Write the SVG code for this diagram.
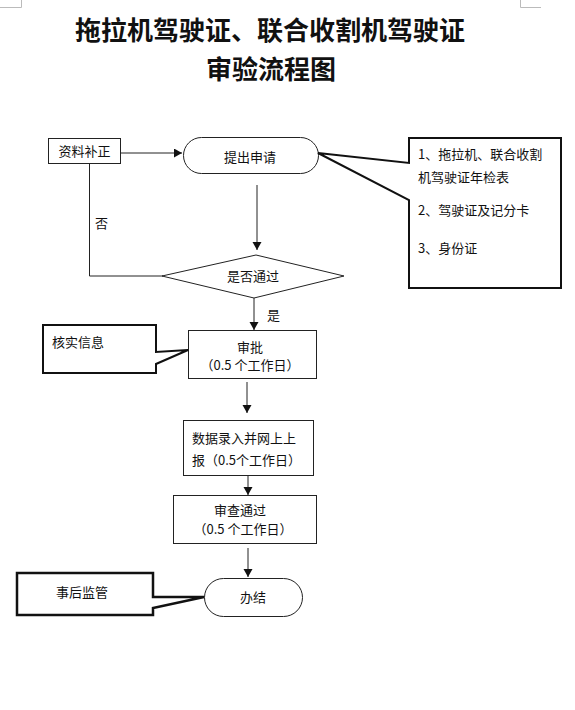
<svg xmlns="http://www.w3.org/2000/svg" width="575" height="710" viewBox="0 0 575 710">
<style>
.t{font-family:"Noto Sans CJK SC","Noto Sans",sans-serif;font-size:13px;fill:#111}
.title{font-family:"Noto Sans CJK SC","Noto Sans",sans-serif;font-size:26px;font-weight:bold;fill:#111}
.box{fill:#fff;stroke:#222;stroke-width:1}
.call{fill:#fff;stroke:#111;stroke-width:2;stroke-linejoin:miter}
.ln{fill:none;stroke:#222;stroke-width:1}
.mark{fill:none;stroke:#bbb;stroke-width:1}
</style>
<defs>
<marker id="arr" markerUnits="userSpaceOnUse" markerWidth="9" markerHeight="10" refX="8" refY="4.5" orient="auto">
<path d="M0,0 L8,4.5 L0,9 Z" fill="#111"/>
</marker>
</defs>
<path class="mark" d="M0,7.5 H21.5 V0"/>
<path class="mark" d="M520.5,0 V7.5 H541"/>
<g id="title">
<text class="title" x="270" y="40" text-anchor="middle">拖拉机驾驶证、联合收割机驾驶证</text>
<text class="title" x="271" y="79" text-anchor="middle">审验流程图</text>
</g>
<g id="connectors">
<line class="ln" x1="120" y1="153" x2="182" y2="153" marker-end="url(#arr)"/>
<line class="ln" x1="257" y1="185" x2="257" y2="250" marker-end="url(#arr)"/>
<polyline class="ln" points="163,276 89.5,276 89.5,163"/>
<line class="ln" x1="254" y1="298" x2="254" y2="330" marker-end="url(#arr)"/>
<line class="ln" x1="247" y1="382" x2="247" y2="413" marker-end="url(#arr)"/>
<line class="ln" x1="248" y1="475" x2="248" y2="495" marker-end="url(#arr)"/>
<line class="ln" x1="248" y1="548" x2="248" y2="577" marker-end="url(#arr)"/>
<text class="t" x="95" y="228">否</text>
<text class="t" x="267" y="320">是</text>
</g>
<g id="n-buzheng">
<rect class="box" x="48.5" y="138.5" width="72" height="25"/>
<text class="t" x="84.5" y="156" text-anchor="middle">资料补正</text>
</g>
<g id="n-shenqing">
<rect class="box" x="183.5" y="137.5" width="135" height="36" rx="18" ry="18"/>
<text class="t" x="250" y="162" text-anchor="middle">提出申请</text>
</g>
<g id="n-cailiao">
<path class="call" d="M409,138 H561 V288 H409 V200 L318,153 L409,163 Z"/>
<text class="t" x="418" y="159">1、拖拉机、联合收割</text>
<text class="t" x="418" y="182">机驾驶证年检表</text>
<text class="t" x="418" y="215">2、驾驶证及记分卡</text>
<text class="t" x="418" y="253">3、身份证</text>
</g>
<g id="n-tongguo">
<polygon class="box" points="256,255 344,276 254,298 162,276"/>
<text class="t" x="253" y="281" text-anchor="middle">是否通过</text>
</g>
<g id="n-shenpi">
<rect class="box" x="188.5" y="330.5" width="128" height="48"/>
<text class="t" x="250" y="352" text-anchor="middle">审批</text>
<text class="t" x="250" y="370" text-anchor="middle">（0.5 个工作日）</text>
</g>
<g id="n-heshi">
<path class="call" d="M43,325 H156 V352 L188,350 L156,364 V373 H43 Z"/>
<text class="t" x="52" y="347">核实信息</text>
</g>
<g id="n-shuju">
<rect class="box" x="183.5" y="420.5" width="130" height="55"/>
<text class="t" x="192" y="443">数据录入并网上上</text>
<text class="t" x="192" y="465">报（0.5个工作日）</text>
</g>
<g id="n-shencha">
<rect class="box" x="173.5" y="495.5" width="143" height="48"/>
<text class="t" x="240" y="515" text-anchor="middle">审查通过</text>
<text class="t" x="243" y="534" text-anchor="middle">（0.5 个工作日）</text>
</g>
<g id="n-banjie">
<rect class="box" x="204.5" y="578.5" width="98" height="38" rx="19" ry="19"/>
<text class="t" x="253" y="602" text-anchor="middle">办结</text>
</g>
<g id="n-jianguan">
<path class="call" style="stroke-width:2.5" d="M17,573 H153 V597 L204,597 L153,608 V615 H17 Z"/>
<text class="t" x="82" y="597" text-anchor="middle">事后监管</text>
</g>
</svg>
